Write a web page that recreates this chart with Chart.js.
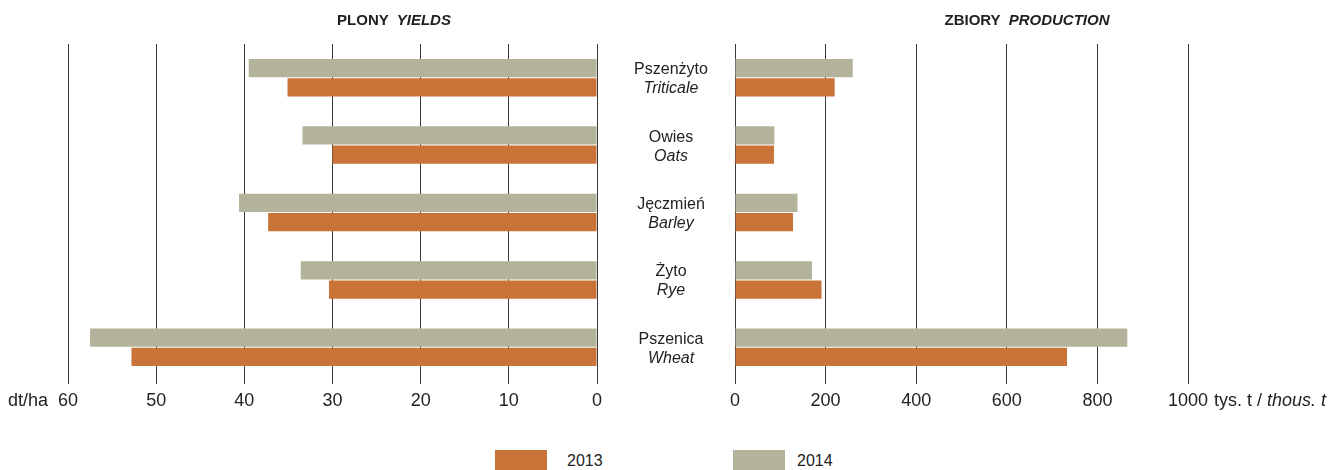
<!DOCTYPE html>
<html>
<head>
<meta charset="utf-8">
<script src="https://cdn.jsdelivr.net/npm/chart.js@4"></script>
<style>
  body { margin: 0; background: #fff; font-family: "Liberation Sans", Arial, sans-serif; color: #222; }
  #wrap { position: relative; width: 1334px; height: 470px; overflow: hidden; }
  #wrap canvas { position: absolute; top: 0; }
  .title { position: absolute; top: 11px; font-size: 15px; font-weight: bold; white-space: nowrap; transform: translateX(-50%); }
  .title i { margin-left: 8px; }
  .unit { position: absolute; top: 388px; font-size: 18px; line-height: 24px; white-space: nowrap; }
  .swatch { position: absolute; top: 450px; width: 52px; height: 22px; }
  .legtext { position: absolute; top: 451px; font-size: 16px; line-height: 20px; }
</style>
</head>
<body>
<div id="wrap">
  <canvas id="yieldChart" width="620" height="425" style="left:0"></canvas>
  <canvas id="prodChart" width="734" height="425" style="left:600px"></canvas>

  <div class="title" style="left:394px">PLONY<i>YIELDS</i></div>
  <div class="title" style="left:1027px">ZBIORY<i>PRODUCTION</i></div>

  <div class="unit" style="left:8px">dt/ha</div>
  <div class="unit" style="left:1214px">tys. t / <i>thous. t</i></div>

  <div class="swatch" style="left:495px;background:#C97339"></div>
  <div class="legtext" style="left:567px">2013</div>
  <div class="swatch" style="left:733px;background:#B3B39B"></div>
  <div class="legtext" style="left:797px">2014</div>
</div>

<script>
// crops, top to bottom
const cropsPl = ["Pszenżyto", "Owies", "Jęczmień", "Żyto", "Pszenica"];
const cropsEn = ["Triticale", "Oats", "Barley", "Rye", "Wheat"];

// yields, dt/ha
const yields2013 = [35.1, 30.0, 37.3, 30.4, 52.8];
const yields2014 = [39.5, 33.4, 40.6, 33.6, 57.5];

// production, thousand tonnes
const production2013 = [220, 86, 128, 191, 733];
const production2014 = [260, 87, 138, 170, 866];

const color2013 = "#C97339";
const color2014 = "#B3B39B";
const fontFamily = '"Liberation Sans", Arial, sans-serif';

// fixed axis box so both charts share the same plot height
function fixXAxis(scale) {
  scale.height = 44;
  scale.paddingLeft = 0;
  scale.paddingRight = 0;
}

function barDatasets(v2014, v2013) {
  return [
    { label: "2014", data: v2014, backgroundColor: color2014, borderWidth: 0,
      categoryPercentage: 0.57, barPercentage: 0.95 },
    { label: "2013", data: v2013, backgroundColor: color2013, borderWidth: 0,
      categoryPercentage: 0.57, barPercentage: 0.95 }
  ];
}

function tickOpts(step) {
  return {
    stepSize: step,
    color: "#222",
    font: { family: fontFamily, size: 18 },
    padding: 6,
    callback: (value) => String(value)
  };
}

function baseOptions(xOpts, padding) {
  return {
    indexAxis: "y",
    responsive: false,
    animation: false,
    layout: { padding: padding },
    plugins: { legend: { display: false }, tooltip: { enabled: false } },
    scales: {
      x: Object.assign({
        type: "linear",
        position: "bottom",
        grid: { color: "#3a3a3a", lineWidth: 1, tickLength: 3 },
        border: { display: false },
        afterFit: fixXAxis
      }, xOpts),
      y: { type: "category", display: false, grid: { display: false } }
    }
  };
}

// crop names between the two panels
const cropLabels = {
  id: "cropLabels",
  afterDraw(chart) {
    const { ctx, scales: { y } } = chart;
    ctx.save();
    ctx.fillStyle = "#222";
    ctx.textAlign = "center";
    ctx.textBaseline = "middle";
    cropsPl.forEach((name, i) => {
      const yc = y.getPixelForValue(i);
      ctx.font = "16px " + fontFamily;
      ctx.fillText(name, 71, yc - 8);
      ctx.font = "italic 16px " + fontFamily;
      ctx.fillText(cropsEn[i], 71, yc + 11);
    });
    ctx.restore();
  }
};

new Chart(document.getElementById("yieldChart"), {
  type: "bar",
  data: { labels: cropsPl, datasets: barDatasets(yields2014, yields2013) },
  options: baseOptions(
    { min: 0, max: 60, reverse: true, ticks: tickOpts(10) },
    { left: 68, right: 23, top: 44, bottom: 0 }
  )
});

new Chart(document.getElementById("prodChart"), {
  type: "bar",
  data: { labels: cropsPl, datasets: barDatasets(production2014, production2013) },
  options: baseOptions(
    { min: 0, max: 1000, ticks: tickOpts(200) },
    { left: 135, right: 146, top: 44, bottom: 0 }
  ),
  plugins: [cropLabels]
});
</script>
</body>
</html>
